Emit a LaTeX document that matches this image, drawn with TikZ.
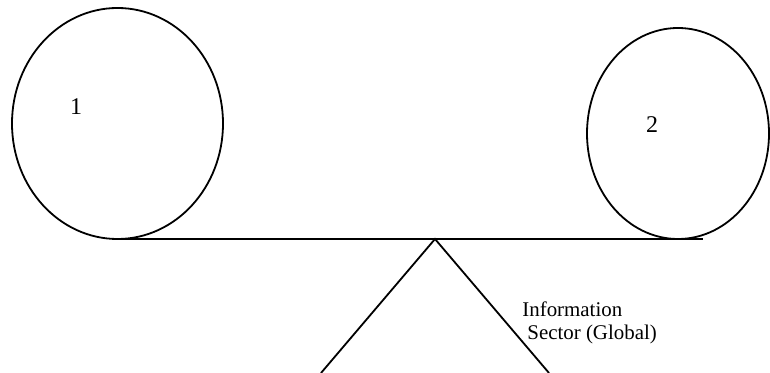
\documentclass[tikz,border=0pt]{standalone}
\usepackage{fontspec}
\setmainfont{Liberation Serif}
\usetikzlibrary{shapes.geometric}
\tikzset{
	weight/.style={draw, ellipse, line width=0.9pt, inner sep=0pt, outer sep=0pt},
	num/.style={inner sep=0pt, font=\fontsize{12}{14}\selectfont},
	caption/.style={inner sep=0pt, anchor=base west, font=\fontsize{10.45}{12}\selectfont}
}
\begin{document}
\begin{tikzpicture}[x=0.5pt,y=-0.5pt]

	\useasboundingbox (0,0) rectangle (770,373);

	%The two weights
	\node[weight, minimum width=105.5pt, minimum height=115.5pt] (wone) at (117.5,123.5) {};
	\node[weight, minimum width=91pt, minimum height=105.5pt] (wtwo) at (678,133.5) {};
	\node[num] (one) at (76,107) {1};
	\node[num] (two) at (652,125) {2};

	%The beam
	\coordinate (pivot) at (435,239);
	\coordinate (beamend) at (703,239);
	\draw[line width=0.9pt] (wone.south) -- (beamend);

	%The support
	\coordinate (footl) at (321,373);
	\coordinate (footr) at (549,373);
	\draw[line width=0.9pt] (footl) -- (pivot) -- (footr);

	\node[caption] (info) at (522,317) {Information};
	\node[caption] (sector) at (527,340) {Sector (Global)};

\end{tikzpicture}
\end{document}
